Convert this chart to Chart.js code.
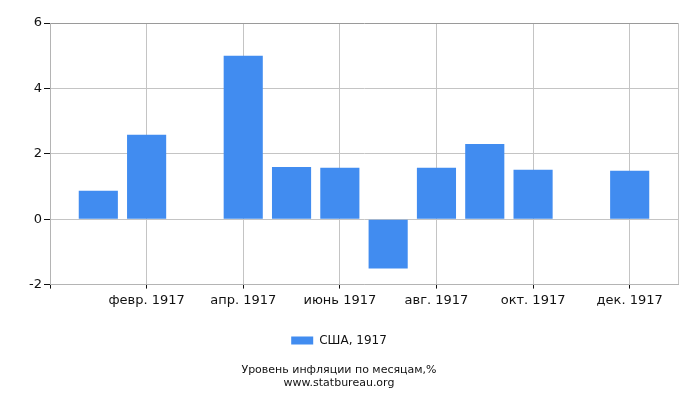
<!DOCTYPE html>
<html>
<head>
<meta charset="utf-8">
<script src="https://cdn.jsdelivr.net/npm/chart.js@4"></script>
<style>
  body { margin: 0; background: #fff; }
  #wrap { width: 700px; height: 400px; }
</style>
</head>
<body>
<div id="wrap"><canvas id="myChart" width="700" height="400"></canvas></div>
<script>
// monthly inflation, USA 1917
const months = ['янв. 1917', 'февр. 1917', 'март 1917', 'апр. 1917', 'май 1917', 'июнь 1917',
    'июль 1917', 'авг. 1917', 'сент. 1917', 'окт. 1917', 'нояб. 1917', 'дек. 1917'];
const values = [0.87, 2.58, 0, 5.0, 1.6, 1.57, -1.51, 1.57, 2.3, 1.51, 0, 1.48];
const seriesName = 'США, 1917';
const yTicks = [-2, 0, 2, 4, 6];

Chart.defaults.font.family = 'DejaVu Sans';
Chart.defaults.color = '#111';

const points = values.map((v, i) => ({ x: i, y: v }));

const ctx = document.getElementById('myChart').getContext('2d');
window.myChart = new Chart(ctx, {
    type: 'bar',
    data: {
        datasets: [{
            label: seriesName,
            data: points,
            backgroundColor: '#418cf0',
            borderWidth: 0,
            categoryPercentage: 0.9,
            barPercentage: 0.9
        }]
    },
    options: {
        responsive: false,
        devicePixelRatio: 1,
        animation: false,
        layout: { padding: { top: 23, right: 22, left: 0, bottom: 10 } },
        scales: {
            x: {
                type: 'linear',
                min: -1,
                max: 12,
                offset: false,
                afterBuildTicks: axis => {
                    // only every second month gets a label and a gridline, plus the frame edges
                    axis.ticks = [-1, 1, 3, 5, 7, 9, 11, 12].map(v => ({ value: v }));
                },
                afterFit: scale => { scale.height = 40; },
                ticks: {
                    autoSkip: false,
                    maxRotation: 0,
                    font: { size: 13 },
                    padding: 4,
                    callback: value => months[value] || ''
                },
                grid: {
                    offset: false,
                    color: '#c4c4c4',
                    tickColor: c => (c.tick && c.tick.value === 12) ? 'rgba(0,0,0,0)' : '#111',
                    tickLength: 4
                },
                border: { color: '#b4b4b4' }
            },
            y: {
                min: -2,
                max: 6,
                afterBuildTicks: axis => {
                    axis.ticks = yTicks.map(v => ({ value: v }));
                },
                afterFit: scale => { scale.width = 50; },
                ticks: {
                    font: { size: 13 },
                    padding: 2
                },
                grid: {
                    color: c => (c.tick && c.tick.value === 6) ? '#9a9a9a' : '#c4c4c4',
                    tickColor: '#111',
                    tickLength: 6
                },
                border: { color: '#b4b4b4' }
            }
        },
        plugins: {
            tooltip: { enabled: false },
            legend: {
                position: 'bottom',
                labels: {
                    boxWidth: 22,
                    boxHeight: 8,
                    font: { size: 12 },
                    padding: 10
                }
            },
            title: {
                display: true,
                position: 'bottom',
                text: ['Уровень инфляции по месяцам,%', 'www.statbureau.org'],
                font: { size: 11, weight: 'normal' },
                lineHeight: 1.05,
                padding: { top: 7, bottom: 0 }
            }
        }
    }
});
</script>
</body>
</html>
